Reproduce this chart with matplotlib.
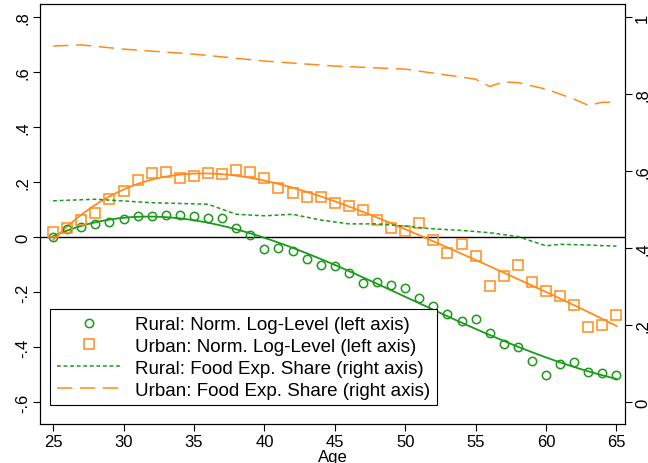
import numpy as np
import matplotlib.pyplot as plt
from matplotlib.ticker import FuncFormatter

plt.rcParams['font.family'] = ['Liberation Sans', 'DejaVu Sans']

age = np.arange(25, 66)
rural_lvl = [0.0, .03, .036, .047, .055, .065, .077, .075, .08, .08, .078, .07, .07, .033, .007,
             -.044, -.04, -.05, -.08, -.10, -.105, -.13, -.167, -.165, -.175, -.185,
             -.22, -.25, -.28, -.305, -.298, -.35, -.39, -.40, -.45, -.50, -.46, -.455, -.49, -.495, -.50]
urban_lvl = [.018, .033, .062, .087, .14, .167, .207, .233, .235, .216, .222, .233, .228, .244, .237,
             .214, .178, .16, .145, .145, .124, .113, .098, .062, .033, .022, .05, -.012, -.057, -.026,
             -.068, -.177, -.14, -.103, -.164, -.197, -.214, -.246, -.326, -.32, -.283]
share_age = [25, 28, 32, 36, 38, 40, 42, 44, 46, 48, 50, 52, 54, 56, 58, 60, 61, 63, 65]
rural_share = [.523, .527, .518, .514, .488, .484, .488, .473, .463, .463, .457, .45, .446, .44,
               .43, .406, .41, .408, .405]
uage = [25, 27, 30, 35, 40, 45, 50, 55, 56, 57, 58, 60, 62, 63, 64, 65]
urban_share = [.925, .928, .917, .904, .886, .873, .865, .839, .82, .832, .83, .813, .787, .771, .779, .779]

green = '#1a9a1a'
orange = '#ff8c1a'

fig = plt.figure(figsize=(6.48, 4.64), dpi=100)
ax = fig.add_axes([0.062, 0.084, 0.903, 0.905])
ax2 = ax.twinx()

fr = np.poly1d(np.polyfit(age, rural_lvl, 4))
fu = np.poly1d(np.polyfit(age, urban_lvl, 4))
xs = np.linspace(25, 65, 200)

ax.axhline(0, color='black', lw=1)
ax.plot(xs, fr(xs), color=green, lw=1.3)
ax.plot(xs, fu(xs), color=orange, lw=1.3)
h1, = ax.plot(age, rural_lvl, 'o', mfc='none', mec=green, ms=6, mew=1.1)
h2, = ax.plot(age, urban_lvl, 's', mfc='none', mec=orange, ms=7, mew=1.1)
h3, = ax2.plot(share_age, rural_share, color=green, ls=(0, (2.5, 1.8)), lw=1.1)
h4, = ax2.plot(uage, urban_share, color=orange, ls=(0, (10, 5)), lw=1.1)

ax.set_xlim(24.08, 65.63)
ax.set_ylim(-0.68, 0.847)
ax2.set_ylim(-0.057, 1.034)
ax.set_xticks(range(25, 70, 5))
ax.set_yticks(np.arange(-0.6, 0.81, 0.2))
ax2.set_yticks(np.arange(0, 1.01, 0.2))
fmt = FuncFormatter(lambda v, p: '0' if abs(v) < 1e-9 else ('1' if abs(v - 1) < 1e-9 else ('%.1f' % v).replace('0.', '.')))
ax.yaxis.set_major_formatter(fmt)
ax2.yaxis.set_major_formatter(fmt)
for a in (ax, ax2):
    a.tick_params(labelsize=12, length=5, pad=2)
for t in ax.get_yticklabels() + ax2.get_yticklabels():
    t.set_rotation(90)
    t.set_va('center')
ax.set_xlabel('Age', fontsize=12, labelpad=0)

leg = ax.legend([h1, h2, h3, h4],
                ['Rural: Norm. Log-Level (left axis)', 'Urban: Norm. Log-Level (left axis)',
                 'Rural: Food Exp. Share (right axis)', 'Urban: Food Exp. Share (right axis)'],
                loc='lower left', bbox_to_anchor=(0.017, 0.045), fontsize=13.5, frameon=True,
                fancybox=False, edgecolor='black', framealpha=1, handlelength=3.4,
                borderaxespad=0, labelspacing=0.25, borderpad=0.35)
leg.get_frame().set_linewidth(0.8)
leg.remove()
ax2.add_artist(leg)

fig.savefig('out.png', dpi=100)
